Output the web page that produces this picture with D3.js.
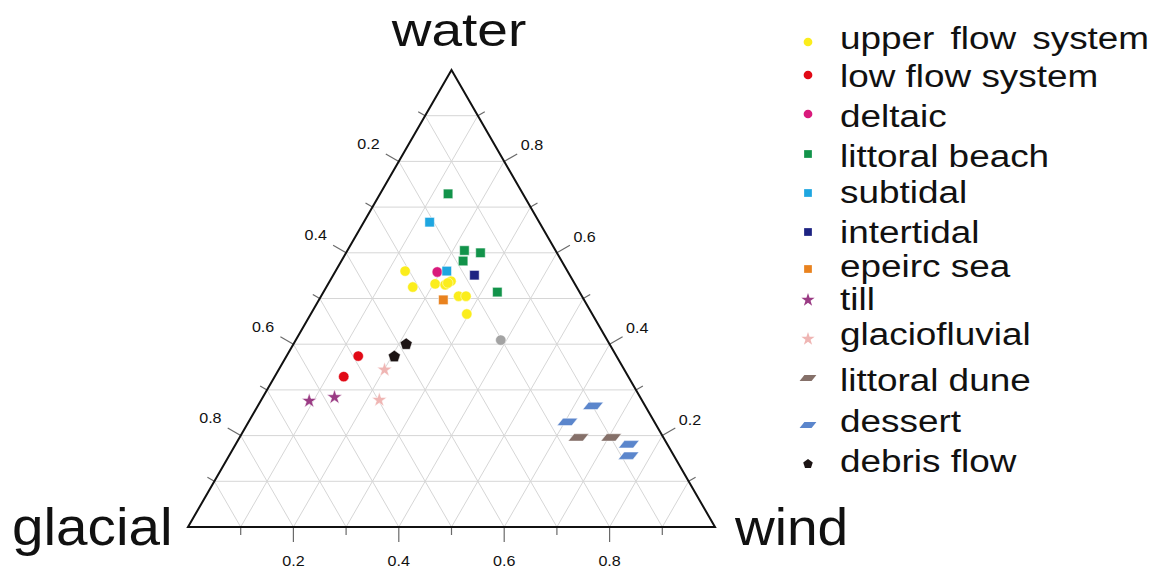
<!DOCTYPE html>
<html>
<head>
<meta charset="utf-8">
<script src="https://cdn.jsdelivr.net/npm/d3@7"></script>
<style>
  html, body { margin: 0; padding: 0; background: #fff; }
  svg { display: block; font-family: "Liberation Sans", Arial, sans-serif; }
</style>
</head>
<body>
<svg id="chart" width="1158" height="569"></svg>
<script>
// Sample compositions as [water, glacial, wind] fractions
const upperFlow     = [[0.560, 0.308, 0.132], [0.525, 0.311, 0.164], [0.532, 0.265, 0.203],
                       [0.530, 0.247, 0.223], [0.538, 0.232, 0.230], [0.534, 0.240, 0.226],
                       [0.505, 0.234, 0.261], [0.505, 0.220, 0.275], [0.466, 0.238, 0.296]];
const lowFlow       = [[0.374, 0.490, 0.136], [0.329, 0.540, 0.131]];
const deltaic       = [[0.558, 0.248, 0.194]];
const littoralBeach = [[0.729, 0.142, 0.129], [0.605, 0.173, 0.222], [0.600, 0.145, 0.255],
                       [0.582, 0.187, 0.231], [0.514, 0.156, 0.330]];
const subtidal      = [[0.667, 0.208, 0.125], [0.560, 0.229, 0.211]];
const intertidal    = [[0.551, 0.181, 0.268]];
const epeircSea     = [[0.497, 0.267, 0.236]];
const till          = [[0.276, 0.632, 0.092], [0.284, 0.580, 0.136]];
const glaciofluvial = [[0.344, 0.455, 0.201], [0.278, 0.498, 0.224]];
const littoralDune  = [[0.196, 0.161, 0.643], [0.196, 0.099, 0.705]];
const dessert       = [[0.265, 0.099, 0.636], [0.230, 0.165, 0.605],
                       [0.181, 0.073, 0.746], [0.156, 0.086, 0.758]];
const debrisFlow    = [[0.400, 0.386, 0.214], [0.373, 0.422, 0.205]];
const unlabeled     = [[0.409, 0.202, 0.389]];

const seriesNames = ["upper flow system", "low flow system", "deltaic", "littoral beach",
                     "subtidal", "intertidal", "epeirc sea", "till", "glaciofluvial",
                     "littoral dune", "dessert", "debris flow"];
const axisTicks  = [0.2, 0.4, 0.6, 0.8];
const minorTicks = [0.1, 0.2, 0.3, 0.4, 0.5, 0.6, 0.7, 0.8, 0.9];
const gridLevels = [0.1, 0.2, 0.3, 0.4, 0.5, 0.6, 0.7, 0.8, 0.9];

// Custom marker shapes
const symParallelogram = {
  draw(ctx, size) {
    const w = Math.sqrt(size) * 1.55, h = w * 0.5, s = w * 0.2;
    ctx.moveTo(-w / 2 + s, -h / 2);
    ctx.lineTo(w / 2 + s, -h / 2);
    ctx.lineTo(w / 2 - s, h / 2);
    ctx.lineTo(-w / 2 - s, h / 2);
    ctx.closePath();
  }
};
const symPentagon = {
  draw(ctx, size) {
    const r = Math.sqrt(size / 2.378);
    for (let i = 0; i < 5; i++) {
      const a = -Math.PI / 2 + i * 2 * Math.PI / 5;
      const x = r * Math.cos(a), y = r * Math.sin(a);
      if (i === 0) ctx.moveTo(x, y); else ctx.lineTo(x, y);
    }
    ctx.closePath();
  }
};

const series = [
  { name: seriesNames[0],  data: upperFlow,     color: "#fbed1c", type: d3.symbolCircle, size: 85 },
  { name: seriesNames[1],  data: lowFlow,       color: "#e10a16", type: d3.symbolCircle, size: 85 },
  { name: seriesNames[2],  data: deltaic,       color: "#d91a7c", type: d3.symbolCircle, size: 85 },
  { name: seriesNames[3],  data: littoralBeach, color: "#12934a", type: d3.symbolSquare, size: 90 },
  { name: seriesNames[4],  data: subtidal,      color: "#1ea6e0", type: d3.symbolSquare, size: 90 },
  { name: seriesNames[5],  data: intertidal,    color: "#1d2382", type: d3.symbolSquare, size: 90 },
  { name: seriesNames[6],  data: epeircSea,     color: "#e9821e", type: d3.symbolSquare, size: 90 },
  { name: seriesNames[7],  data: till,          color: "#9a3b84", type: d3.symbolStar,   size: 70 },
  { name: seriesNames[8],  data: glaciofluvial, color: "#efb5b3", type: d3.symbolStar,   size: 70 },
  { name: seriesNames[9],  data: littoralDune,  color: "#857069", type: symParallelogram, size: 90 },
  { name: seriesNames[10], data: dessert,       color: "#5b86cc", type: symParallelogram, size: 90 },
  { name: seriesNames[11], data: debrisFlow,    color: "#1c1414", type: symPentagon,  size: 95 }
];

const svg = d3.select("#chart");

// Ternary frame: wind runs left to right, water bottom to top
const xs = d3.scaleLinear().domain([0, 1]).range([188, 715]);
const ys = d3.scaleLinear().domain([0, 1]).range([527, 70]);
const pt = (water, glacial, wind) => [xs(wind + water / 2), ys(water)];

const g = svg.append("g");

// Grid
const gridLines = [];
gridLevels.forEach(k => {
  gridLines.push([pt(k, 1 - k, 0), pt(k, 0, 1 - k)]);
  gridLines.push([pt(1 - k, k, 0), pt(0, k, 1 - k)]);
  gridLines.push([pt(1 - k, 0, k), pt(0, 1 - k, k)]);
});
g.selectAll("line.grid").data(gridLines).join("line")
  .attr("class", "grid")
  .attr("x1", d => d[0][0]).attr("y1", d => d[0][1])
  .attr("x2", d => d[1][0]).attr("y2", d => d[1][1])
  .attr("stroke", "#d6d6d6").attr("stroke-width", 1);

// Ticks on the three edges
const nL = [-Math.cos(Math.PI / 6), -0.5], nR = [Math.cos(Math.PI / 6), -0.5], nB = [0, 1];
const tickData = [];
minorTicks.forEach(k => {
  const major = axisTicks.some(t => Math.abs(t - k) < 1e-9);
  const len = major ? 15 : 8;
  tickData.push({ p: pt(0, 1 - k, k), n: nB, len });
  tickData.push({ p: pt(1 - k, k, 0), n: nL, len });
  tickData.push({ p: pt(k, 0, 1 - k), n: nR, len });
});
g.selectAll("line.tick").data(tickData).join("line")
  .attr("class", "tick")
  .attr("x1", d => d.p[0]).attr("y1", d => d.p[1])
  .attr("x2", d => d.p[0] + d.n[0] * d.len).attr("y2", d => d.p[1] + d.n[1] * d.len)
  .attr("stroke", "#6a6a6a").attr("stroke-width", 1.2);

// Outline
g.append("path")
  .attr("d", d3.line()([pt(1, 0, 0), pt(0, 1, 0), pt(0, 0, 1)]) + "Z")
  .attr("fill", "none").attr("stroke", "#111").attr("stroke-width", 2)
  .attr("stroke-linejoin", "miter");

// Tick labels
const fmt = d3.format(".1f");
const lab = (x, y, txt, size, sx, anchor) =>
  svg.append("text")
    .attr("transform", `translate(${x},${y}) scale(${sx},1)`)
    .attr("text-anchor", anchor || "middle")
    .attr("font-size", size)
    .attr("fill", "#111")
    .text(txt);

axisTicks.forEach(k => {
  const b = pt(0, 1 - k, k);
  lab(b[0], 566, fmt(k), 14, 1.15);
  const l = pt(1 - k, k, 0);
  lab(l[0] + nL[0] * 35, l[1] + nL[1] * 35 + 5, fmt(k), 14, 1.15);
  const r = pt(k, 0, 1 - k);
  lab(r[0] + nR[0] * 32, r[1] + nR[1] * 32 + 5, fmt(k), 14, 1.15);
});

// Vertex titles
lab(459, 46, "water", 47, 1.17);
lab(12, 545, "glacial", 52, 1.09, "start");
lab(735, 545, "wind", 51, 1.08, "start");

// Data marks
const sym = d3.symbol();
series.concat([{ data: unlabeled, color: "#a3a3a3", type: d3.symbolCircle, size: 85 }])
  .forEach(s => {
    g.append("g").selectAll("path").data(s.data).join("path")
      .attr("transform", d => { const p = pt(d[0], d[1], d[2]); return `translate(${p[0]},${p[1]})`; })
      .attr("d", sym.type(s.type).size(s.size)())
      .attr("fill", s.color)
      .attr("stroke", "#fff").attr("stroke-width", 0.5);
  });

// Legend
const legendMarkY = [42, 75, 114, 154, 193, 232, 269, 300, 339, 378, 425, 464];
const legendTextY = [49, 87, 127, 167, 203, 243, 277, 310, 345, 391, 432, 472];
const legend = svg.append("g");
series.forEach((s, i) => {
  const small = s.type === symParallelogram ? 60 : (s.type === d3.symbolStar ? 55 : (s.type === symPentagon ? 60 : 60));
  legend.append("path")
    .attr("transform", `translate(808,${legendMarkY[i]})`)
    .attr("d", d3.symbol().type(s.type).size(small)())
    .attr("fill", s.color);
  legend.append("text")
    .attr("transform", `translate(840,${legendTextY[i]}) scale(1.19,1)`)
    .attr("font-size", 31)
    .attr("word-spacing", i === 0 ? 5 : 0)
    .attr("fill", "#111")
    .text(s.name);
});
</script>
</body>
</html>
